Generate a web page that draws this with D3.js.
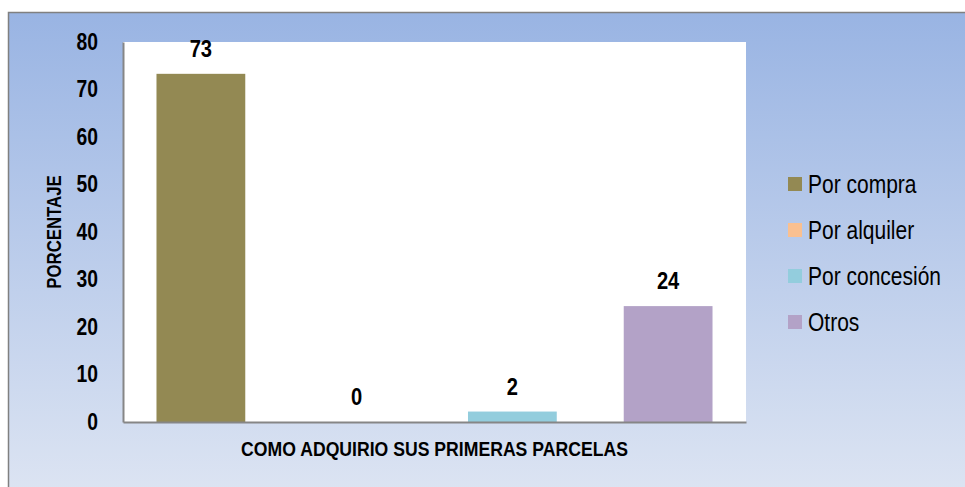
<!DOCTYPE html>
<html>
<head>
<meta charset="utf-8">
<script src="https://cdn.jsdelivr.net/npm/d3@7"></script>
<style>
  body { margin: 0; background: #fff; }
  text { font-family: "Liberation Sans", Arial, sans-serif; }
</style>
</head>
<body>
<div id="chart"></div>
<script>
// chart data
var categories = ["Por compra", "Por alquiler", "Por concesión", "Otros"]
var values = [73.3, 0, 2.2, 24.4]
var colors = ["#938953", "#FAC090", "#93CDDD", "#B3A2C7"]
var yTicks = [0, 10, 20, 30, 40, 50, 60, 70, 80]
var xTitle = "COMO ADQUIRIO SUS PRIMERAS PARCELAS"
var yTitle = "PORCENTAJE"

var svgWidth = 965, svgHeight = 487;
// no narrow font installed, so squeeze text horizontally
var squeeze = 0.84;

// plot area inside the frame
var margin = { top: 42, right: 219, bottom: 65, left: 123 };
var chartWidth = svgWidth - margin.left - margin.right;
var chartHeight = svgHeight - margin.top - margin.bottom;

var svg = d3.select("#chart").append("svg")
  .attr("width", svgWidth)
  .attr("height", svgHeight);

// background gradient
var grad = svg.append("defs").append("linearGradient")
  .attr("id", "bg")
  .attr("x1", 0).attr("y1", 0).attr("x2", 0).attr("y2", 1);
grad.append("stop").attr("offset", "0%").attr("stop-color", "#99B4E3");
grad.append("stop").attr("offset", "100%").attr("stop-color", "#DFE6F3");

svg.append("rect")
  .attr("x", 8.5).attr("y", 12.5)
  .attr("width", 980).attr("height", 500)
  .attr("fill", "url(#bg)")
  .attr("stroke", "#808080")
  .attr("stroke-width", 1.5);

var chartGroup = svg.append("g")
  .attr("transform", `translate(${margin.left}, ${margin.top})`);

chartGroup.append("rect")
  .attr("width", chartWidth)
  .attr("height", chartHeight)
  .attr("fill", "#fff");

var xScale = d3.scaleBand()
  .domain(categories)
  .range([0, chartWidth])
  .paddingInner(0.43)
  .paddingOuter(0.215);

var yScale = d3.scaleLinear()
  .domain([0, 80])
  .range([chartHeight, 0]);

// bars
chartGroup.selectAll(".bar")
  .data(values)
  .enter()
  .append("rect")
  .attr("class", "bar")
  .attr("x", (d, i) => xScale(categories[i]))
  .attr("y", d => yScale(d))
  .attr("width", xScale.bandwidth())
  .attr("height", d => chartHeight - yScale(d))
  .attr("fill", (d, i) => colors[i]);

// value labels
chartGroup.selectAll(".lbl")
  .data(values)
  .enter()
  .append("text")
  .attr("class", "lbl")
  .attr("transform", (d, i) => `translate(${xScale(categories[i]) + xScale.bandwidth() / 2}, ${yScale(d) - 17}) scale(${squeeze},1)`)
  .attr("text-anchor", "middle")
  .attr("font-size", 24)
  .attr("font-weight", "bold")
  .text(d => Math.round(d));

// y axis
var yAxis = d3.axisLeft(yScale).tickValues(yTicks).tickSize(0).tickPadding(25 / squeeze);
var yG = chartGroup.append("g").call(yAxis);
yG.attr("font-family", null).attr("font-size", null);
yG.select(".domain").attr("stroke", "#868686").attr("stroke-width", 2);
yG.selectAll("text")
  .attr("transform", `scale(${squeeze},1)`)
  .attr("font-size", 23)
  .attr("font-weight", "bold")
  .attr("fill", "#000");

// x axis line
var xAxis = d3.axisBottom(xScale).tickSize(0).tickFormat("");
var xG = chartGroup.append("g")
  .attr("transform", `translate(0, ${chartHeight})`)
  .call(xAxis);
xG.attr("font-family", null);
xG.select(".domain").attr("stroke", "#868686").attr("stroke-width", 2);

// axis titles
chartGroup.append("text")
  .attr("transform", `translate(${chartWidth / 2}, ${chartHeight + 34}) scale(${squeeze},1)`)
  .attr("text-anchor", "middle")
  .attr("font-size", 21)
  .attr("font-weight", "bold")
  .text(xTitle);

chartGroup.append("text")
  .attr("transform", `translate(${-62}, ${chartHeight / 2}) rotate(-90) scale(${squeeze},1)`)
  .attr("text-anchor", "middle")
  .attr("font-size", 20)
  .attr("font-weight", "bold")
  .text(yTitle);

// legend
var legend = svg.append("g")
  .attr("transform", "translate(788, 184)");

var item = legend.selectAll(".item")
  .data(categories)
  .enter()
  .append("g")
  .attr("transform", (d, i) => `translate(0, ${i * 46})`);

item.append("rect")
  .attr("x", 0).attr("y", -7)
  .attr("width", 14).attr("height", 14)
  .attr("fill", (d, i) => colors[i]);

item.append("text")
  .attr("transform", `translate(20, 9) scale(${squeeze},1)`)
  .attr("font-size", 25)
  .text(d => d);
</script>
</body>
</html>
